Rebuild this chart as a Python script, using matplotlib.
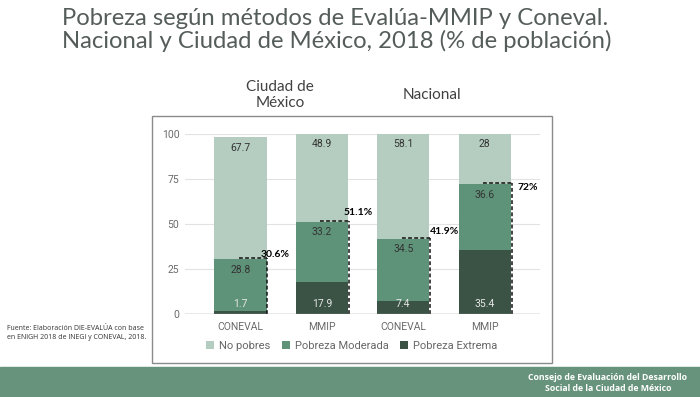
import numpy as np
import matplotlib.pyplot as plt
from matplotlib.patches import Rectangle

# datos
metodos = ["CONEVAL", "MMIP", "CONEVAL", "MMIP"]
pobreza_extrema = [1.7, 17.9, 7.4, 35.4]
pobreza_moderada = [28.8, 33.2, 34.5, 36.6]
no_pobres = [67.7, 48.9, 58.1, 28.0]
pobreza_total = ["30.6%", "51.1%", "41.9%", "72%"]
yticks = [0, 25, 50, 75, 100]

c_light = "#b5cdc0"
c_mod = "#5f9379"
c_dark = "#3a5345"
band = "#67937c"

W, H = 700, 397
fig = plt.figure(figsize=(W / 100, H / 100), dpi=100)

# titulo
fig.text(62 / W, 1 - 8 / H,
         "Pobreza según métodos de Evalúa-MMIP y Coneval.\nNacional y Ciudad de México, 2018 (% de población)",
         ha="left", va="top", fontsize=17.2, color="#555d5a", family="Lato", linespacing=1.07)

fig.text(280 / W, 1 - 95 / H, "Ciudad de\nMéxico", ha="center", va="center",
         fontsize=11, color="#404040", family="Lato", linespacing=1.2)
fig.text(432 / W, 1 - 95 / H, "Nacional", ha="center", va="center",
         fontsize=11, color="#404040", family="Lato")

# marco de la grafica
fig.patches.append(Rectangle((152 / W, 1 - 363 / H), 400 / W, 247 / H, transform=fig.transFigure,
                             fill=False, edgecolor="#8a8a8a", lw=1))

ax = fig.add_axes([185 / W, 1 - 314 / H, 355 / W, 180 / H])
x = np.arange(len(metodos))
bw = 0.64
ext = np.array(pobreza_extrema)
mod = np.array(pobreza_moderada)
nop = np.array(no_pobres)

ax.bar(x, ext, bw, color=c_dark, label="Pobreza Extrema", zorder=2)
ax.bar(x, mod, bw, bottom=ext, color=c_mod, label="Pobreza Moderada", zorder=2)
ax.bar(x, nop, bw, bottom=ext + mod, color=c_light, label="No pobres", zorder=2)

# etiquetas de valores
for i in range(len(x)):
    ax.annotate(f"{pobreza_extrema[i]:g}", (x[i], 0), xytext=(0, 7.5), textcoords="offset points",
                ha="center", va="center", fontsize=7.5, color="#e6e6e6", family="Roboto", zorder=4)
    ax.annotate(f"{pobreza_moderada[i]:g}", (x[i], ext[i] + mod[i]), xytext=(0, -7.5),
                textcoords="offset points", ha="center", va="center", fontsize=7.5,
                color="#333333", family="Roboto", zorder=4)
    ax.annotate(f"{no_pobres[i]:g}", (x[i], ext[i] + mod[i] + nop[i]), xytext=(0, -7.5),
                textcoords="offset points", ha="center", va="center", fontsize=7.5,
                color="#333333", family="Roboto", zorder=4)

# lineas punteadas del total de pobreza
pct_offsets = [(-5, 3), (-4, 6.5), (0, 5), (4, -2)]
for i in range(len(x)):
    tot = ext[i] + mod[i]
    xr = x[i] + bw / 2 + 0.01
    ax.plot([x[i] - 0.02, xr], [tot + 0.6, tot + 0.6], color="#111111", lw=1.1,
            dashes=(2.5, 1.5), zorder=3, clip_on=False)
    ax.plot([xr, xr], [0, tot + 0.6], color="#111111", lw=1.1, dashes=(2.5, 1.5),
            zorder=3, clip_on=False)
    ax.annotate(pobreza_total[i], (xr, tot), xytext=pct_offsets[i], textcoords="offset points",
                ha="left", va="center", fontsize=7.5, fontweight="bold", color="black",
                family="Lato", zorder=5)

ax.set_xlim(-0.682, 3.679)
ax.set_ylim(0, 100)
ax.set_yticks(yticks)
ax.set_xticks(x)
ax.set_xticklabels(metodos)
ax.tick_params(length=0, labelsize=7.5, labelcolor="#6a6a6a")
ax.tick_params(axis="y", pad=4)
ax.tick_params(axis="x", pad=6)
for lab in ax.get_xticklabels() + ax.get_yticklabels():
    lab.set_family("Roboto")
for s in ax.spines.values():
    s.set_visible(False)
ax.yaxis.grid(True, color="#e2e2e2", lw=0.8, zorder=0)
ax.axhline(0, color="#999999", lw=1, zorder=3)
ax.set_axisbelow(True)

handles, labels = ax.get_legend_handles_labels()
leg = fig.legend(handles[::-1], labels[::-1], loc="center", bbox_to_anchor=(352 / W, 1 - 346 / H),
                 ncol=3, frameon=False, handlelength=0.7, handleheight=0.7, handletextpad=0.5,
                 columnspacing=1.0, prop={"family": "Roboto", "size": 8})
for t in leg.get_texts():
    t.set_color("#666666")

fig.text(7 / W, 1 - 333 / H,
         "Fuente: Elaboración DIE-EVALÚA con base\nen ENIGH 2018 de INEGI y CONEVAL, 2018.",
         ha="left", va="center", fontsize=5.0, color="#333333", family="Open Sans", linespacing=1.35)

# franja inferior
fig.patches.append(Rectangle((0, 0), 1, 30 / H, transform=fig.transFigure, color=band, zorder=0))
fig.text(608 / W, 1 - 383 / H, "Consejo de Evaluación del Desarrollo\nSocial de la Ciudad de México",
         ha="center", va="center", fontsize=6.3, fontweight="bold", color="white",
         family="Open Sans", linespacing=1.3)

fig.savefig("out.png", dpi=100)
